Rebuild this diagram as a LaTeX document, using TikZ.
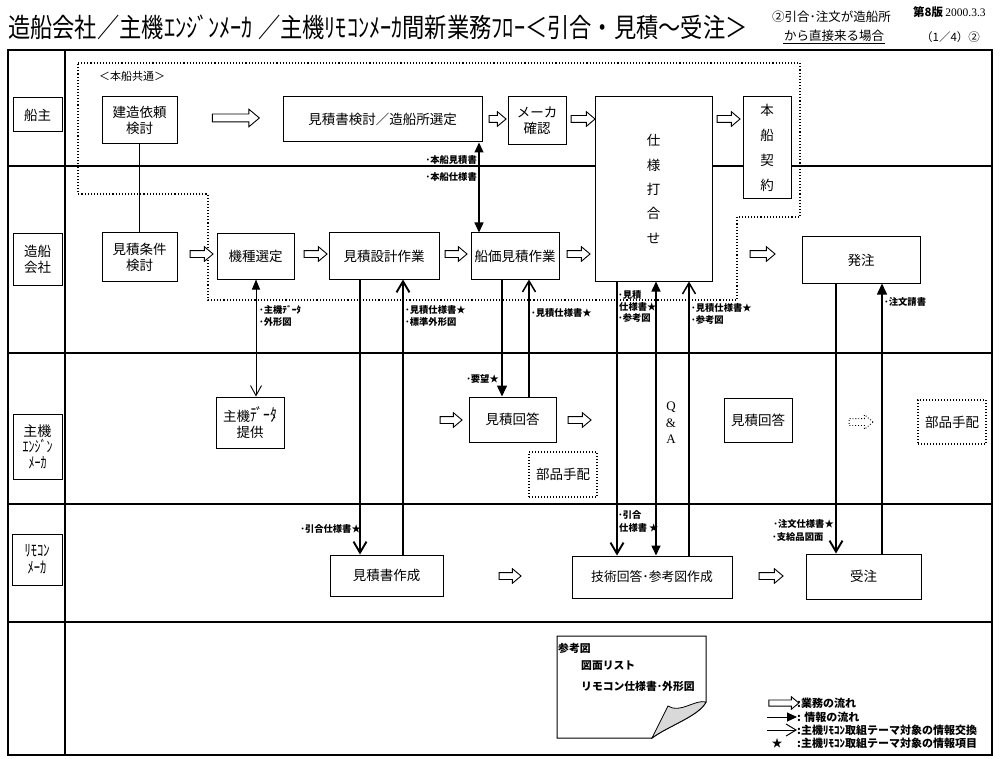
\documentclass[tikz,border=0pt]{standalone}
\usepackage{graphicx}
\usepackage{fontspec}
\setmainfont{Noto Sans CJK JP}
\newfontfamily\seriffont{Liberation Serif}
\usetikzlibrary{arrows.meta,shapes.arrows,calc}
\tikzset{
  box/.style={draw, fill=white, line width=1pt, inner sep=0pt, align=center, font=\fontsize{13.5}{16}\selectfont},
  lbl/.style={inner sep=0pt, font=\bfseries\fontsize{9.3}{10}\selectfont, align=left},
  flow/.style={single arrow, draw, fill=white, line width=0.9pt, inner xsep=0pt, inner ysep=3pt, single arrow head extend=3.8pt, single arrow tip angle=80},
  fa/.style={-{Triangle[length=11pt,width=10pt]}},
  oa/.style={-{Straight Barb[length=11pt,width=13pt]}},
  ffa/.style={{Triangle[length=10pt,width=9pt]}-{Triangle[length=10pt,width=9pt]}},
  foa/.style={{Triangle[length=10pt,width=8pt]}-{Straight Barb[length=10pt,width=11pt]}},
  lane/.style={line width=1.3pt},
  conn/.style={line width=1.5pt},
  connthick/.style={line width=1.9pt},
  connthin/.style={line width=0.9pt}
}
\newcommand\bx[6][]{\node[box,#1,minimum width={(#4-#2)*1pt},minimum height={(#5-#3)*1pt}] (#6) at ({(#2+#4)/2},{(#3+#5)/2})}
\newcommand\farrow[5][]{\node[flow,#1,minimum height={(#4-#3)*1pt}] (#2) at ({(#3+#4)/2},#5) {}}
\newcommand\tallkana[1]{\scalebox{1}[1.3]{#1}}
\begin{document}
\begin{tikzpicture}[x=1pt,y=-1pt]
\useasboundingbox (0,0) rectangle (1000,759);
\fill[white] (0,0) rectangle (1000,759);

% title
\node[anchor=west, inner sep=0pt] (title) at (8,27) {\scalebox{0.84}[1]{\fontsize{26.5}{28}\selectfont 造船会社／主機ｴﾝｼﾞﾝﾒｰｶ ／主機ﾘﾓｺﾝﾒｰｶ間新業務ﾌﾛｰ＜引合・見積～受注＞}};
\node[anchor=west, inner sep=0pt, font=\fontsize{12.5}{14}\selectfont] (sub1) at (772,17) {②引合･注文が造船所};
\node[anchor=west, inner sep=1pt, font=\fontsize{12.5}{14}\selectfont] (sub2) at (783,36) {から直接来る場合};
\draw[line width=0.8pt] (sub2.south west) -- (sub2.south east);
\node[anchor=west, inner sep=0pt, font=\fontsize{11.5}{13}\selectfont] (page) at (921,37) {（1／4）②};
\node[anchor=west, inner sep=0pt] (ver) at (913,12) {{\bfseries\fontsize{11.5}{13}\selectfont 第8版} {\seriffont\fontsize{11.5}{13}\selectfont 2000.3.3}};

% frame and lanes
\draw[line width=1.5pt] (8,50) rectangle (992,755);
\draw[line width=1.5pt] (65,50) -- (65,755);
\foreach \yy in {166,353,504,622} {\draw[lane] (8,\yy) -- (992,\yy);}

% lane labels
\bx{13}{98}{62}{132}{L1} {船主};
\bx{13}{234}{62}{285}{L2} {造船\\会社};
\bx[font=\fontsize{14}{16}\selectfont]{13}{414}{62}{479}{L3} {主機\\{\fontsize{12}{16}\selectfont\tallkana{ｴﾝｼﾞﾝ}}\\{\fontsize{12}{16}\selectfont\tallkana{ﾒｰｶ}}};
\bx[font=\fontsize{12.5}{17}\selectfont]{12}{534}{62}{585}{L4} {\tallkana{ﾘﾓｺﾝ}\\\tallkana{ﾒｰｶ}};

% common region
\draw[dotted, line width=1.1pt] (78,63) -- (800,63) -- (800,217) -- (737,217) -- (737,300) -- (208,300) -- (208,194) -- (78,194) -- cycle;
\node[anchor=west, inner sep=0pt, font=\fontsize{11}{13}\selectfont] (common) at (99,76) {＜本船共通＞};

% boxes
\bx{102}{97}{177}{144}{kenzo} {建造依頼\\検討};
\bx{283}{97}{482}{142}{mitsu} {見積書検討／造船所選定};
\bx{508}{97}{566}{145}{maker} {メーカ\\確認};
\bx[font=\fontsize{13.5}{24.3}\selectfont]{595}{97}{712}{281}{shiyo} {仕\\様\\打\\合\\せ};
\bx[font=\fontsize{13.5}{25}\selectfont]{743}{97}{791}{199}{keiyaku} {本\\船\\契\\約};
\bx{102}{233}{177}{281}{joken} {見積条件\\検討};
\bx{217}{234}{294}{279}{kishu} {機種選定};
\bx{329}{233}{439}{279}{sekkei} {見積設計作業};
\bx{471}{233}{559}{279}{senka} {船価見積作業};
\bx{802}{237}{920}{283}{hatchu} {発注};
\bx{216}{397}{284}{448}{data} {主機\tallkana{ﾃﾞｰﾀ}\\提供};
\bx{469}{397}{556}{442}{kaito} {見積回答};
\bx[dotted, line width=1.2pt]{529}{452}{597}{497}{buhin} {部品手配};
\bx{724}{398}{792}{442}{kaitob} {見積回答};
\bx[dotted, line width=1.2pt]{918}{400}{986}{444}{buhinb} {部品手配};
\bx{330}{555}{443}{596}{msak} {見積書作成};
\bx[font=\fontsize{12.8}{15}\selectfont]{572}{556}{732}{598}{gijutsu} {技術回答･参考図作成};
\bx{806}{554}{921}{599}{juchu} {受注};

% connectors
\draw[connthin] (kenzo.south) -- (joken.north);
\draw[line width=1.3pt, ffa] (mitsu.south -| 479,0) -- (senka.north -| 479,0);
\draw[connthin, foa] (kishu.south -| 256,0) -- (data.north -| 256,0);
\draw[connthick, oa] (sekkei.south -| 360,0) -- (msak.north -| 360,0);
\draw[connthick, oa] (msak.north -| 403,0) -- (sekkei.south -| 403,0);
\draw[conn, fa] (senka.south -| 502,0) -- (kaito.north -| 502,0);
\draw[conn, oa] (kaito.north -| 529,0) -- (senka.south -| 529,0);
\draw[connthick, oa] (shiyo.south -| 617,0) -- (gijutsu.north -| 617,0);
\draw[conn, ffa] (shiyo.south -| 656,0) -- (gijutsu.north -| 656,0);
\draw[conn, oa] (gijutsu.north -| 689,0) -- (shiyo.south -| 689,0);
\draw[connthick, oa] (hatchu.south -| 836,0) -- (juchu.north -| 836,0);
\draw[conn, fa] (juchu.north -| 882,0) -- (hatchu.south -| 882,0);

% connector labels
\node[lbl, anchor=east] (t1) at (477,160) {･本船見積書};
\node[lbl, anchor=east] (t2) at (477,177) {･本船仕様書};
\node[lbl, anchor=west] (t3) at (259,310) {･主機ﾃﾞｰﾀ};
\node[lbl, anchor=west] (t4) at (259,322) {･外形図};
\node[lbl, anchor=west] (t5) at (405,310) {･見積仕様書★};
\node[lbl, anchor=west] (t6) at (405,322) {･標準外形図};
\node[lbl, anchor=west] (t7) at (531,313) {･見積仕様書★};
\node[lbl, anchor=east] (t8) at (499,379) {･要望★};
\node[lbl, anchor=east] (t9) at (361,529) {･引合仕様書★};
\node[lbl, anchor=west] (t10) at (618,295) {･見積};
\node[lbl, anchor=west] (t11) at (619,307) {仕様書★};
\node[lbl, anchor=west] (t12) at (618,318) {･参考図};
\node[lbl, anchor=west] (t13) at (691,308) {･見積仕様書★};
\node[lbl, anchor=west] (t14) at (691,320) {･参考図};
\node[lbl, anchor=west] (t15) at (884,302) {･注文請書};
\node[lbl, anchor=west] (t16) at (618,515) {･引合};
\node[lbl, anchor=west] (t17) at (619,528) {仕様書 ★};
\node[lbl, anchor=east] (t18) at (834,524) {･注文仕様書★};
\node[lbl, anchor=west] (t19) at (772,537) {･支給品図面};
\node[inner sep=0pt, align=center, font=\seriffont\fontsize{13}{16.5}\selectfont] (qa) at (671,423) {Q\\\&\\A};

% flow arrows
\farrow[inner ysep=3.5pt, single arrow head extend=4.8pt]{f1}{210}{257}{118};
\farrow{f2}{487}{504}{119};
\farrow{f3}{569}{593}{119};
\farrow{f4}{715}{738}{119};
\farrow{f5}{188}{211}{254};
\farrow{f6}{302}{325}{254};
\farrow{f7}{443}{465}{254};
\farrow{f8}{565}{588}{254};
\farrow{f9}{748}{773}{254};
\farrow{f10}{438}{460}{420};
\farrow{f11}{566}{589}{420};
\farrow[dotted]{f12}{847}{871}{422};
\farrow{f13}{497}{519}{576};
\farrow{f14}{757}{781}{576};

% reference-drawing note
\draw[line width=1pt, fill=white] (557,636) -- (706,636) -- (706,702) .. controls (699,716) and (668,726) .. (652,738) -- (557,738) -- cycle;
\draw[line width=0.8pt, fill=gray!30] (652,738) -- (668,706) .. controls (680,714) and (695,699) .. (706,702) .. controls (699,716) and (668,726) .. (652,738) -- cycle;
\node[anchor=west, inner sep=0pt, font=\bfseries\fontsize{10.8}{12}\selectfont] (n1) at (558,648) {参考図};
\node[anchor=west, inner sep=0pt, font=\bfseries\fontsize{10.8}{12}\selectfont] (n2) at (581,666) {図面リスト};
\node[anchor=west, inner sep=0pt, font=\bfseries\fontsize{10.8}{12}\selectfont] (n3) at (581,686) {リモコン仕様書･外形図};

% legend
\farrow[inner ysep=2.6pt, single arrow head extend=3.2pt]{lg1}{767}{797}{703};
\coordinate (lg2a) at (767,717); \coordinate (lg2b) at (797,717);
\draw[line width=1pt, -{Triangle[length=10pt,width=9pt]}] (lg2a) -- (lg2b);
\coordinate (lg3a) at (767,730); \coordinate (lg3b) at (797,730);
\draw[line width=1pt, -{Straight Barb[length=10pt,width=12pt]}] (lg3a) -- (lg3b);
\node[inner sep=0pt, font=\fontsize{11}{12}\selectfont] (lg4) at (777,743) {★};
\node[anchor=west, inner sep=0pt, font=\bfseries\fontsize{11}{13}\selectfont] (lt1) at (797,703) {:業務の流れ};
\node[anchor=west, inner sep=0pt, font=\bfseries\fontsize{11}{13}\selectfont] (lt2) at (797,717) {: 情報の流れ};
\node[anchor=west, inner sep=0pt, font=\bfseries\fontsize{11}{13}\selectfont] (lt3) at (797,730) {:主機ﾘﾓｺﾝ取組テーマ対象の情報交換};
\node[anchor=west, inner sep=0pt, font=\bfseries\fontsize{11}{13}\selectfont] (lt4) at (797,743) {:主機ﾘﾓｺﾝ取組テーマ対象の情報項目};
\end{tikzpicture}
\end{document}
